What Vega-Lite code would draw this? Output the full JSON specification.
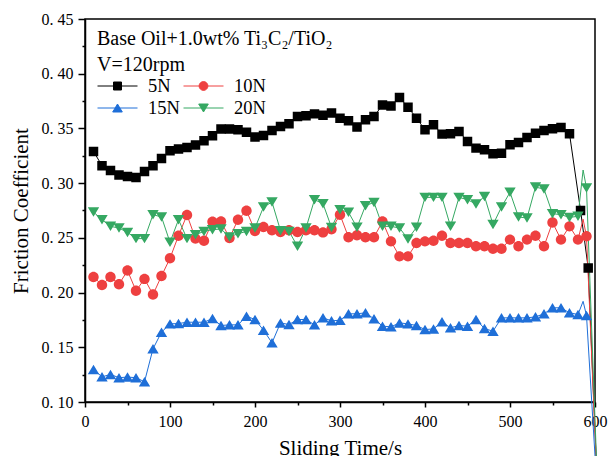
{
  "$schema": "https://vega.github.io/schema/vega-lite/v6.json",
  "width": 510,
  "height": 383,
  "autosize": {"type": "none"},
  "padding": {"left": 85, "top": 19, "right": 13, "bottom": 54},
  "background": "white",
  "config": {
    "font": "Liberation Serif",
    "view": {"stroke": "black", "strokeWidth": 1.5},
    "axis": {"domainColor": "black", "domainWidth": 1.5, "tickColor": "black", "tickWidth": 1.5, "labelColor": "black", "titleColor": "black", "grid": false, "labelFont": "Liberation Serif", "titleFont": "Liberation Serif", "titleFontWeight": "normal"}
  },
  "data": {"values": [
    {"s":"5N","t":10,"v":0.329},{"s":"5N","t":20,"v":0.316},{"s":"5N","t":30,"v":0.3116},{"s":"5N","t":40,"v":0.3074},{"s":"5N","t":50,"v":0.3061},{"s":"5N","t":60,"v":0.3052},{"s":"5N","t":70,"v":0.3107},{"s":"5N","t":80,"v":0.316},{"s":"5N","t":90,"v":0.3225},{"s":"5N","t":100,"v":0.3296},{"s":"5N","t":110,"v":0.3311},{"s":"5N","t":120,"v":0.3326},{"s":"5N","t":130,"v":0.3348},{"s":"5N","t":140,"v":0.3387},{"s":"5N","t":150,"v":0.3433},{"s":"5N","t":160,"v":0.3494},{"s":"5N","t":170,"v":0.3494},{"s":"5N","t":180,"v":0.3487},{"s":"5N","t":190,"v":0.3466},{"s":"5N","t":200,"v":0.3421},{"s":"5N","t":210,"v":0.3436},{"s":"5N","t":220,"v":0.3481},{"s":"5N","t":230,"v":0.3517},{"s":"5N","t":240,"v":0.3542},{"s":"5N","t":250,"v":0.3609},{"s":"5N","t":260,"v":0.3615},{"s":"5N","t":270,"v":0.3633},{"s":"5N","t":280,"v":0.3621},{"s":"5N","t":290,"v":0.3642},{"s":"5N","t":300,"v":0.3594},{"s":"5N","t":310,"v":0.357},{"s":"5N","t":320,"v":0.3512},{"s":"5N","t":330,"v":0.3579},{"s":"5N","t":340,"v":0.3609},{"s":"5N","t":350,"v":0.3715},{"s":"5N","t":360,"v":0.3706},{"s":"5N","t":370,"v":0.3782},{"s":"5N","t":380,"v":0.3694},{"s":"5N","t":390,"v":0.3594},{"s":"5N","t":400,"v":0.3487},{"s":"5N","t":410,"v":0.3533},{"s":"5N","t":420,"v":0.3448},{"s":"5N","t":430,"v":0.3451},{"s":"5N","t":440,"v":0.3472},{"s":"5N","t":450,"v":0.3381},{"s":"5N","t":460,"v":0.332},{"s":"5N","t":470,"v":0.3305},{"s":"5N","t":480,"v":0.3268},{"s":"5N","t":490,"v":0.3274},{"s":"5N","t":500,"v":0.335},{"s":"5N","t":510,"v":0.3372},{"s":"5N","t":520,"v":0.3417},{"s":"5N","t":530,"v":0.3457},{"s":"5N","t":540,"v":0.3481},{"s":"5N","t":550,"v":0.3496},{"s":"5N","t":560,"v":0.3508},{"s":"5N","t":570,"v":0.3451},{"s":"5N","t":583,"v":0.275},{"s":"5N","t":592,"v":0.2225},{"s":"5N","t":604,"v":0.0},
    {"s":"10N","t":10,"v":0.2143},{"s":"10N","t":20,"v":0.207},{"s":"10N","t":30,"v":0.2143},{"s":"10N","t":40,"v":0.2076},{"s":"10N","t":50,"v":0.2201},{"s":"10N","t":60,"v":0.2016},{"s":"10N","t":70,"v":0.2125},{"s":"10N","t":80,"v":0.1982},{"s":"10N","t":90,"v":0.2152},{"s":"10N","t":100,"v":0.2313},{"s":"10N","t":110,"v":0.252},{"s":"10N","t":120,"v":0.2709},{"s":"10N","t":130,"v":0.2493},{"s":"10N","t":140,"v":0.2474},{"s":"10N","t":150,"v":0.2648},{"s":"10N","t":160,"v":0.265},{"s":"10N","t":170,"v":0.2499},{"s":"10N","t":180,"v":0.2666},{"s":"10N","t":190,"v":0.2748},{"s":"10N","t":200,"v":0.2563},{"s":"10N","t":210,"v":0.26},{"s":"10N","t":220,"v":0.2569},{"s":"10N","t":230,"v":0.2554},{"s":"10N","t":240,"v":0.2569},{"s":"10N","t":250,"v":0.2554},{"s":"10N","t":260,"v":0.2569},{"s":"10N","t":270,"v":0.2569},{"s":"10N","t":280,"v":0.255},{"s":"10N","t":290,"v":0.2578},{"s":"10N","t":300,"v":0.2712},{"s":"10N","t":310,"v":0.2505},{"s":"10N","t":320,"v":0.2523},{"s":"10N","t":330,"v":0.2505},{"s":"10N","t":340,"v":0.2505},{"s":"10N","t":350,"v":0.265},{"s":"10N","t":360,"v":0.2468},{"s":"10N","t":370,"v":0.2331},{"s":"10N","t":380,"v":0.2331},{"s":"10N","t":390,"v":0.2453},{"s":"10N","t":400,"v":0.2468},{"s":"10N","t":410,"v":0.2474},{"s":"10N","t":420,"v":0.252},{"s":"10N","t":430,"v":0.2453},{"s":"10N","t":440,"v":0.2453},{"s":"10N","t":450,"v":0.2453},{"s":"10N","t":460,"v":0.2423},{"s":"10N","t":470,"v":0.2423},{"s":"10N","t":480,"v":0.2401},{"s":"10N","t":490,"v":0.2401},{"s":"10N","t":500,"v":0.2484},{"s":"10N","t":510,"v":0.2423},{"s":"10N","t":520,"v":0.2484},{"s":"10N","t":530,"v":0.252},{"s":"10N","t":540,"v":0.2423},{"s":"10N","t":550,"v":0.2641},{"s":"10N","t":560,"v":0.2484},{"s":"10N","t":570,"v":0.2605},{"s":"10N","t":580,"v":0.2484},{"s":"10N","t":586,"v":0.267},{"s":"10N","t":590,"v":0.2514},{"s":"10N","t":604,"v":0.0},
    {"s":"15N","t":10,"v":0.1297},{"s":"15N","t":20,"v":0.123},{"s":"15N","t":30,"v":0.1252},{"s":"15N","t":40,"v":0.1222},{"s":"15N","t":50,"v":0.1228},{"s":"15N","t":60,"v":0.1222},{"s":"15N","t":70,"v":0.1185},{"s":"15N","t":80,"v":0.1486},{"s":"15N","t":90,"v":0.1638},{"s":"15N","t":100,"v":0.1714},{"s":"15N","t":110,"v":0.1717},{"s":"15N","t":120,"v":0.1729},{"s":"15N","t":130,"v":0.1729},{"s":"15N","t":140,"v":0.1729},{"s":"15N","t":150,"v":0.1763},{"s":"15N","t":160,"v":0.1699},{"s":"15N","t":170,"v":0.1705},{"s":"15N","t":180,"v":0.1705},{"s":"15N","t":190,"v":0.1784},{"s":"15N","t":200,"v":0.1754},{"s":"15N","t":210,"v":0.1656},{"s":"15N","t":220,"v":0.1541},{"s":"15N","t":230,"v":0.1723},{"s":"15N","t":240,"v":0.1708},{"s":"15N","t":250,"v":0.1754},{"s":"15N","t":260,"v":0.1754},{"s":"15N","t":270,"v":0.1705},{"s":"15N","t":280,"v":0.1769},{"s":"15N","t":290,"v":0.1742},{"s":"15N","t":300,"v":0.1747},{"s":"15N","t":310,"v":0.1806},{"s":"15N","t":320,"v":0.1806},{"s":"15N","t":330,"v":0.1815},{"s":"15N","t":340,"v":0.176},{"s":"15N","t":350,"v":0.1693},{"s":"15N","t":360,"v":0.1687},{"s":"15N","t":370,"v":0.1723},{"s":"15N","t":380,"v":0.1714},{"s":"15N","t":390,"v":0.1699},{"s":"15N","t":400,"v":0.1662},{"s":"15N","t":410,"v":0.1668},{"s":"15N","t":420,"v":0.1733},{"s":"15N","t":430,"v":0.1678},{"s":"15N","t":440,"v":0.1699},{"s":"15N","t":450,"v":0.1693},{"s":"15N","t":460,"v":0.1754},{"s":"15N","t":470,"v":0.1671},{"s":"15N","t":480,"v":0.1647},{"s":"15N","t":490,"v":0.1769},{"s":"15N","t":500,"v":0.1769},{"s":"15N","t":510,"v":0.1769},{"s":"15N","t":520,"v":0.1769},{"s":"15N","t":530,"v":0.1778},{"s":"15N","t":540,"v":0.1806},{"s":"15N","t":550,"v":0.1861},{"s":"15N","t":560,"v":0.1861},{"s":"15N","t":570,"v":0.1815},{"s":"15N","t":580,"v":0.18},{"s":"15N","t":586,"v":0.192},{"s":"15N","t":590,"v":0.179},{"s":"15N","t":604,"v":0.0},
    {"s":"20N","t":10,"v":0.2736},{"s":"20N","t":20,"v":0.2666},{"s":"20N","t":30,"v":0.2605},{"s":"20N","t":40,"v":0.259},{"s":"20N","t":50,"v":0.255},{"s":"20N","t":60,"v":0.2493},{"s":"20N","t":70,"v":0.2493},{"s":"20N","t":80,"v":0.2712},{"s":"20N","t":90,"v":0.2691},{"s":"20N","t":100,"v":0.2459},{"s":"20N","t":110,"v":0.2666},{"s":"20N","t":120,"v":0.2493},{"s":"20N","t":130,"v":0.2529},{"s":"20N","t":140,"v":0.2559},{"s":"20N","t":150,"v":0.2575},{"s":"20N","t":160,"v":0.2581},{"s":"20N","t":170,"v":0.2508},{"s":"20N","t":180,"v":0.2538},{"s":"20N","t":190,"v":0.2559},{"s":"20N","t":200,"v":0.259},{"s":"20N","t":210,"v":0.2782},{"s":"20N","t":220,"v":0.2827},{"s":"20N","t":230,"v":0.2566},{"s":"20N","t":240,"v":0.2559},{"s":"20N","t":250,"v":0.2423},{"s":"20N","t":260,"v":0.259},{"s":"20N","t":270,"v":0.2849},{"s":"20N","t":280,"v":0.2812},{"s":"20N","t":290,"v":0.2595},{"s":"20N","t":300,"v":0.2757},{"s":"20N","t":310,"v":0.2733},{"s":"20N","t":320,"v":0.2596},{"s":"20N","t":330,"v":0.2794},{"s":"20N","t":340,"v":0.2824},{"s":"20N","t":350,"v":0.2605},{"s":"20N","t":360,"v":0.2605},{"s":"20N","t":370,"v":0.259},{"s":"20N","t":380,"v":0.249},{"s":"20N","t":390,"v":0.2596},{"s":"20N","t":400,"v":0.287},{"s":"20N","t":410,"v":0.287},{"s":"20N","t":420,"v":0.287},{"s":"20N","t":430,"v":0.2605},{"s":"20N","t":440,"v":0.287},{"s":"20N","t":450,"v":0.2849},{"s":"20N","t":460,"v":0.2809},{"s":"20N","t":470,"v":0.2879},{"s":"20N","t":480,"v":0.2621},{"s":"20N","t":490,"v":0.2782},{"s":"20N","t":500,"v":0.2916},{"s":"20N","t":510,"v":0.2691},{"s":"20N","t":520,"v":0.2681},{"s":"20N","t":530,"v":0.2964},{"s":"20N","t":540,"v":0.2946},{"s":"20N","t":550,"v":0.2721},{"s":"20N","t":560,"v":0.2712},{"s":"20N","t":570,"v":0.2687},{"s":"20N","t":580,"v":0.2697},{"s":"20N","t":586,"v":0.312},{"s":"20N","t":590,"v":0.2955},{"s":"20N","t":604,"v":0.0}
  ]},
  "layer": [
    {
      "mark": {"type": "line", "strokeWidth": 1, "clip": false},
      "encoding": {
        "x": {"field": "t", "type": "quantitative", "scale": {"domain": [0, 600], "nice": false, "zero": false},
              "axis": {"values": [0, 100, 200, 300, 400, 500, 600], "title": "Sliding Time/s", "tickSize": 5, "labelFontSize": 16, "labelPadding": 6, "labelFlush": false, "titleFontSize": 21, "titlePadding": 8}},
        "y": {"field": "v", "type": "quantitative", "scale": {"domain": [0.1, 0.45], "nice": false, "zero": false},
              "axis": {"values": [0.1, 0.15, 0.2, 0.25, 0.3, 0.35, 0.4, 0.45], "labelExpr": "replace(format(datum.value, '.2f'), '.', '. ')", "tickSize": 7, "labelFontSize": 16, "labelPadding": 5, "labelFlush": false, "title": "Friction Coefficient", "titleFontSize": 21, "titlePadding": 10}},
        "color": {"field": "s", "type": "nominal", "scale": {"domain": ["5N", "10N", "15N", "20N"], "range": ["#000000", "#EE4040", "#1F6FD8", "#35A862"]}}
      }
    },
    {
      "transform": [{"filter": "datum.t < 600 && datum.t != 586"}],
      "mark": {"type": "point", "filled": true, "opacity": 1, "size": 2250, "clip": false},
      "encoding": {
        "x": {"field": "t", "type": "quantitative",
              "axis": {"orient": "bottom", "values": [50, 150, 250, 350, 450, 550], "labels": false, "domain": false, "tickSize": 3, "title": null}},
        "y": {"field": "v", "type": "quantitative",
              "axis": {"orient": "left", "values": [0.125, 0.175, 0.225, 0.275, 0.325, 0.375, 0.425], "labels": false, "domain": false, "tickSize": 3, "title": null}},
        "shape": {"field": "s", "type": "nominal", "scale": {"domain": ["5N", "10N", "15N", "20N"], "range": [
          "M-1,0H1M-0.2,-0.2H0.2V0.2H-0.2Z",
          "M-1,0H1M-0.22,0A0.22,0.22,0,1,1,0.22,0A0.22,0.22,0,1,1,-0.22,0Z",
          "M-1,0H1M0,-0.2L0.24,0.2L-0.24,0.2Z",
          "M-1,0H1M0,0.2L0.24,-0.2L-0.24,-0.2Z"]}},
        "color": {"field": "s", "type": "nominal",
          "legend": {
            "orient": "none", "legendX": 12, "legendY": 10, "direction": "horizontal",
            "title": ["Base Oil+1.0wt% Ti₃C₂/TiO₂", "V=120rpm"],
            "titleFont": "Liberation Serif", "titleFontSize": 20, "titleFontWeight": "normal", "titleLineHeight": 26, "titleLimit": 400, "titlePadding": 0, "titleColor": "black",
            "columns": 2, "columnPadding": 3, "rowPadding": 0, "clipHeight": 22,
            "labelFont": "Liberation Serif", "labelFontSize": 18.5, "labelOffset": 10, "labelColor": "black", "labelLimit": 200,
            "symbolSize": 1600, "symbolStrokeWidth": 1, "symbolOpacity": 1,
            "encode": {"symbols": {"update": {
              "stroke": {"scale": "color", "field": "value"},
              "strokeWidth": {"value": 1},
              "size": {"value": 1600}
            }}}
          }}
      }
    }
  ],
  "resolve": {"axis": {"x": "independent", "y": "independent"}}
}
